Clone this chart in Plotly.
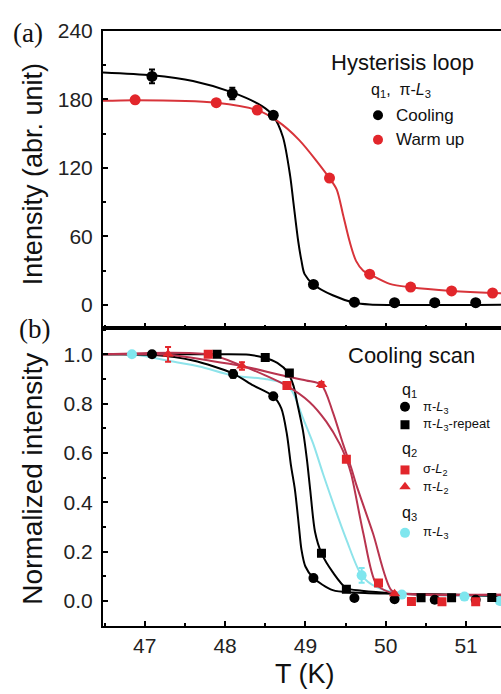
import plotly.graph_objects as go

W, H = 501, 694

# ---------------- panel (a): hysteresis loop, q1 pi-L3 ----------------
cool_T = [47.09, 48.09, 48.60, 49.10, 49.61, 50.11, 50.61, 51.12]
cool_I = [200, 185, 166, 18, 2.5, 2, 2, 2]
cool_err = [6, 5, 0, 0, 0, 0, 0, 0]
warm_T = [46.88, 47.89, 48.40, 49.30, 49.80, 50.31, 50.82, 51.33]
warm_I = [179.5, 177, 170.5, 111, 27, 15.7, 12.3, 10.5]

cool_fit_T = [46.48, 47.09, 47.6, 48.09, 48.46, 48.60, 48.72, 48.81, 48.85, 48.91,
              48.95, 48.99, 49.10, 49.34, 49.61, 49.80, 51.44]
cool_fit_I = [203.5, 201, 196, 186, 174, 165.5, 147, 113, 90, 56,
              39, 27, 18, 8.5, 2, 0.5, 0.3]
warm_fit_T = [46.48, 46.88, 47.89, 48.40, 48.64, 48.92, 49.30, 49.39, 49.47, 49.55,
              49.63, 49.72, 49.80, 50.05, 50.31, 50.82, 51.33, 51.44]
warm_fit_I = [178.6, 179.2, 177, 170.5, 161.5, 144.5, 111, 101, 78.5, 55.7,
              38.6, 30, 27, 18.5, 15.5, 12.3, 10.5, 10.3]

# ---------------- panel (b): cooling scans, normalized ----------------
q1c_T = [47.09, 48.10, 48.60, 49.10, 49.61, 50.11, 50.61, 51.12]
q1c_N = [1.0, 0.92, 0.83, 0.093, 0.012, 0.007, 0.005, 0.005]
q1c_err = [0.01, 0.015, 0, 0, 0, 0, 0, 0]
q1s_T = [47.90, 48.50, 48.80, 49.20, 49.51, 50.44, 50.82, 51.32]
q1s_N = [1.0, 0.987, 0.924, 0.194, 0.048, 0.013, 0.013, 0.014]
q2s_T = [47.79, 48.77, 49.51, 49.91, 50.32, 50.70, 51.12]
q2s_N = [1.0, 0.874, 0.575, 0.073, -0.002, -0.003, -0.003]
q2t_T = [47.29, 48.21, 49.20, 50.11]
q2t_N = [1.0, 0.953, 0.878, 0.03]
q2t_err = [0.03, 0.015, 0.01, 0]
q3_T = [46.84, 49.70, 50.20, 50.98, 51.42]
q3_N = [1.0, 0.104, 0.026, 0.018, 0.0]
q3_err = [0, 0.03, 0, 0, 0]

q1c_fit_T = [46.48, 47.09, 47.6, 48.10, 48.35, 48.60, 48.70, 48.77, 48.82, 48.87,
             48.92, 48.95, 49.00, 49.10, 49.34, 49.60, 50.10, 51.44]
q1c_fit_N = [1.0, 0.998, 0.975, 0.922, 0.874, 0.83, 0.781, 0.675, 0.55, 0.45,
             0.30, 0.21, 0.14, 0.093, 0.044, 0.035, 0.03, 0.022]
q1s_fit_T = [46.48, 47.90, 48.30, 48.49, 48.65, 48.78, 48.85, 48.90, 48.97, 49.02,
             49.06, 49.12, 49.20, 49.34, 49.51, 49.70, 50.10, 51.44]
q1s_fit_N = [1.0, 1.0, 0.998, 0.986, 0.965, 0.927, 0.874, 0.80, 0.69, 0.57,
             0.45, 0.28, 0.194, 0.117, 0.052, 0.042, 0.032, 0.022]
q2s_fit_T = [46.48, 47.79, 48.20, 48.50, 48.76, 49.05, 49.26, 49.43, 49.51, 49.57,
             49.72, 49.88, 50.05, 50.20, 51.44]
q2s_fit_N = [1.0, 1.0, 0.955, 0.915, 0.874, 0.807, 0.727, 0.635, 0.575, 0.515,
             0.276, 0.07, 0.035, 0.03, 0.025]
q2t_fit_T = [46.48, 47.29, 47.80, 48.21, 48.72, 49.01, 49.20, 49.34, 49.47, 49.57,
             49.63, 49.84, 50.07, 50.20, 51.44]
q2t_fit_N = [1.0, 0.998, 0.975, 0.953, 0.914, 0.894, 0.876, 0.767, 0.635, 0.54,
             0.475, 0.276, 0.044, 0.03, 0.025]
q3_fit_T = [46.48, 46.84, 47.31, 47.68, 48.10, 48.50, 48.75, 48.84, 48.97, 49.10,
            49.22, 49.51, 49.70, 49.88, 50.20, 51.44]
q3_fit_N = [1.0, 1.0, 0.973, 0.951, 0.914, 0.90, 0.88, 0.847, 0.741, 0.635,
            0.515, 0.249, 0.104, 0.057, 0.03, 0.02]

BLACK = "#000000"
RED = "#e2262b"
RED_TOP_LINE = "#d8343a"
RED_LINE = "#b8344f"
CYAN = "#7fe6ee"
CYAN_LINE = "#8ee3ea"
FONT = "Liberation Sans, Arial, sans-serif"
SERIF = "Liberation Serif, Times New Roman, serif"

fig = go.Figure()


def fit(x, y, color, ax):
    fig.add_trace(go.Scatter(x=x, y=y, mode="lines", xaxis=ax[0], yaxis=ax[1],
                             line=dict(color=color, width=2, shape="spline", smoothing=0.8),
                             hoverinfo="skip", showlegend=False))


def pts(x, y, color, symbol, size, ax, err=None):
    e = None
    if err is not None:
        e = dict(type="data", array=err, visible=True, color=color, thickness=2, width=3)
    fig.add_trace(go.Scatter(x=x, y=y, mode="markers", xaxis=ax[0], yaxis=ax[1],
                             marker=dict(color=color, symbol=symbol, size=size, opacity=1,
                                         line=dict(width=0)),
                             error_y=e, showlegend=False))


A = ("x", "y")
B = ("x2", "y2")

fit(cool_fit_T, cool_fit_I, BLACK, A)
fit(warm_fit_T, warm_fit_I, RED_TOP_LINE, A)
pts(warm_T, warm_I, RED, "circle", 11, A)
pts(cool_T, cool_I, BLACK, "circle", 11, A, cool_err)

fit(q3_fit_T, q3_fit_N, CYAN_LINE, B)
fit(q1c_fit_T, q1c_fit_N, BLACK, B)
fit(q1s_fit_T, q1s_fit_N, BLACK, B)
fit(q2s_fit_T, q2s_fit_N, RED_LINE, B)
fit(q2t_fit_T, q2t_fit_N, RED_LINE, B)
pts(q3_T, q3_N, CYAN, "circle", 10, B, q3_err)
pts(q1c_T, q1c_N, BLACK, "circle", 10, B, q1c_err)
pts(q1s_T, q1s_N, BLACK, "square", 9, B)
pts(q2s_T, q2s_N, RED, "square", 9, B)
pts(q2t_T, q2t_N, RED, "triangle-up", 10, B, q2t_err)

# legend keys drawn on a full-page, pixel-scaled axis pair
key_x = [378, 378, 405, 405, 405, 405, 405]
key_y = [105, 130, 401.7, 420, 466, 483, 530]
key_c = [BLACK, RED, BLACK, BLACK, RED, RED, CYAN]
key_s = ["circle", "circle", "circle", "square", "square", "triangle-up", "circle"]
key_z = [10, 10, 10, 9, 9, 10, 10]
fig.add_trace(go.Scatter(x=key_x, y=key_y, mode="markers", xaxis="x3", yaxis="y3",
                         marker=dict(color=key_c, symbol=key_s, size=key_z, opacity=1,
                                     line=dict(width=0)),
                         cliponaxis=False, hoverinfo="skip", showlegend=False))

x_dom = [103 / W, 1.0]
split = 1 - 322 / H
top_dom = [split, 1 - 19 / H]
bot_dom = [1 - 625 / H, split]
x_range = [46.48, 51.435]

TICKFONT = dict(family=FONT, size=21, color="#222")
common_x = dict(range=x_range, domain=x_dom, showline=True, linecolor="black", linewidth=2,
                mirror=True, ticks="inside", ticklen=5, tickwidth=1.5, tickcolor="black",
                dtick=1, tick0=47, showgrid=False, zeroline=False,
                minor=dict(ticks="inside", ticklen=3, tickwidth=1.5, dtick=0.5, tick0=47,
                           tickcolor="black", showgrid=False),
                tickfont=TICKFONT)
common_y = dict(showline=True, linecolor="black", linewidth=2, mirror=False,
                ticks="inside", ticklen=5, tickwidth=1.5, tickcolor="black",
                showgrid=False, zeroline=False, ticklabelstandoff=4,
                tickfont=TICKFONT)

fig.update_layout(
    width=W, height=H, margin=dict(l=0, r=0, t=0, b=0),
    paper_bgcolor="white", plot_bgcolor="rgba(0,0,0,0)", showlegend=False,
    xaxis=dict(anchor="y", showticklabels=False, **common_x),
    yaxis=dict(anchor="x", domain=top_dom, range=[-20.5, 240], dtick=60, tick0=0,
               minor=dict(ticks="inside", ticklen=3, tickwidth=1.5, dtick=30, tick0=0,
                          tickcolor="black", showgrid=False),
               **common_y),
    xaxis2=dict(anchor="y2", showticklabels=True, **common_x),
    yaxis2=dict(anchor="x2", domain=bot_dom, range=[-0.102, 1.105], dtick=0.2, tick0=0,
                tickformat=".1f",
                minor=dict(ticks="inside", ticklen=3, tickwidth=1.5, dtick=0.1, tick0=0,
                           tickcolor="black", showgrid=False),
                **common_y),
    xaxis3=dict(domain=[0, 1], range=[0, W], visible=False, anchor="y3"),
    yaxis3=dict(domain=[0, 1], range=[H, 0], visible=False, anchor="x3"),
)


def px(x):
    return x / W


def py(y):
    return 1 - y / H


def label(text, x, y, size, family=FONT, xanchor="left", angle=0, color="#111"):
    fig.add_annotation(text=text, x=px(x), y=py(y), xref="paper", yref="paper",
                       xanchor=xanchor, yanchor="middle", showarrow=False, textangle=angle,
                       font=dict(family=family, size=size, color=color))


label("(a)", 28, 21, 27, SERIF, "center")
label("(b)", 34, 323, 27, SERIF, "center")
label("Intensity (abr. unit)", 33, 165, 27, xanchor="center", angle=-90)
label("Normalized intensity", 33, 475, 28, xanchor="center", angle=-90)
label("T (K)", 305, 674, 27, xanchor="center")

label("Hysterisis loop", 329, 51, 22)
label("q<sub>1</sub>,  π-<i>L</i><sub>3</sub>", 369, 80, 16)
label("Cooling", 394, 105, 17)
label("Warm up", 394, 130, 17)

label("Cooling scan", 346, 350, 22)
label("q<sub>1</sub>", 400, 385, 16)
label("π-<i>L</i><sub>3</sub>", 421, 402, 13)
label("π-<i>L</i><sub>3</sub>-repeat", 421, 420, 13)
label("q<sub>2</sub>", 400, 445, 16)
label("σ-<i>L</i><sub>2</sub>", 421, 466, 13)
label("π-<i>L</i><sub>2</sub>", 421, 484, 13)
label("q<sub>3</sub>", 400, 510, 16)
label("π-<i>L</i><sub>3</sub>", 421, 530, 13)

fig.write_html("out.html")
